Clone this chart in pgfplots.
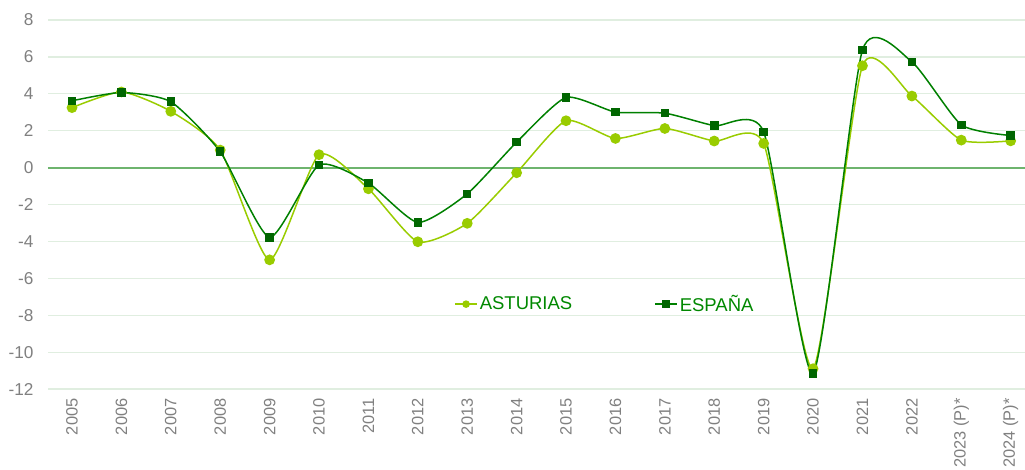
\documentclass[border=0pt]{standalone}
\usepackage{pgfplots}
\pgfplotsset{compat=1.18}
\usepackage{fontspec}
\setmainfont{Liberation Sans}
\definecolor{ast}{RGB}{153,204,0}
\definecolor{espline}{RGB}{0,128,0}
\definecolor{espmark}{RGB}{0,102,0}
\definecolor{gridc}{RGB}{224,238,224}
\definecolor{zeroc}{RGB}{110,180,110}
\definecolor{tickc}{RGB}{128,128,128}
\definecolor{legc}{RGB}{0,136,0}
\begin{document}
\begin{tikzpicture}
\begin{axis}[
  at={(0pt,0pt)}, anchor=south west,
  scale only axis,
  width=977pt, height=369pt,
  xmin=-0.486, xmax=19.29,
  ymin=-12, ymax=8,
  axis line style={draw=none},
  xtick={0,...,19},
  xticklabels={2005,2006,2007,2008,2009,2010,2011,2012,2013,2014,2015,2016,2017,2018,2019,2020,2021,2022,2023 (P)*,2024 (P)*},
  ytick={-12,-10,-8,-6,-4,-2,0,2,4,6,8},
  yticklabels={-12,-10,-8,-6,-4,-2,0,2,4,6,8},
  major tick length=0pt,
  ymajorgrids,
  grid style={gridc, line width=1.2pt},
  xticklabel style={font=\fontsize{16.4}{20}\selectfont, text=tickc, rotate=90, anchor=east, xshift=-6pt},
  yticklabel style={font=\fontsize{17.2}{20}\selectfont, text=tickc, anchor=east, xshift=-11pt},
  legend columns=2,
  legend style={draw=none, fill=none, at={(0.570,0.23)}, anchor=center,
    font=\fontsize{18.5}{22}\selectfont, text=legc,
    /tikz/every even column/.append style={column sep=80pt}},
  legend image code/.code={\draw[mark repeat=2, mark phase=2, mark size=3pt] plot coordinates {(0pt,0pt)(11pt,0pt)(22pt,0pt)};},
  clip=false,
]
\addplot[zeroc, line width=1.8pt, forget plot] coordinates {(-0.486,0)(19.29,0)};
\addplot[ast, line width=1.5pt, smooth, tension=0.36, mark=*, mark size=4.6pt, mark options={fill=ast, draw=ast}]
  coordinates {(0,3.25)(1,4.1)(2,3.05)(3,0.95)(4,-5.0)(5,0.7)(6,-1.15)(7,-4.02)(8,-3.02)(9,-0.28)(10,2.54)(11,1.58)(12,2.12)(13,1.44)(14,1.31)(15,-10.9)(16,5.52)(17,3.88)(18,1.49)(19,1.45)};
\addlegendentry{ASTURIAS}
\addplot[espline, line width=1.5pt, smooth, tension=0.36, mark=square*, mark size=3.5pt, mark options={fill=espmark, draw=espmark}]
  coordinates {(0,3.62)(1,4.07)(2,3.57)(3,0.86)(4,-3.78)(5,0.14)(6,-0.84)(7,-2.97)(8,-1.42)(9,1.38)(10,3.8)(11,3.01)(12,2.95)(13,2.27)(14,1.94)(15,-11.16)(16,6.37)(17,5.73)(18,2.32)(19,1.74)};
\addlegendentry{ESPAÑA}
\end{axis}
\pgfresetboundingbox
\path (-48pt,-80pt) rectangle (977pt,389pt);
\end{tikzpicture}
\end{document}
